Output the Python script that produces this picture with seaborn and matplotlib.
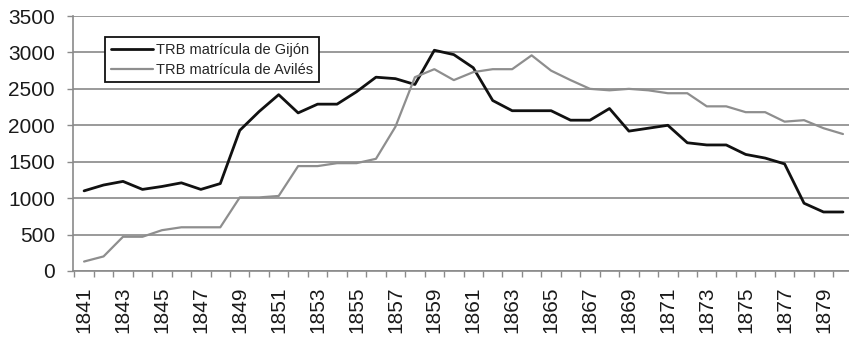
import numpy as np
import pandas as pd
import seaborn as sns
import matplotlib.pyplot as plt
from matplotlib.ticker import MultipleLocator, FixedLocator

years = list(range(1841, 1881))
gijon = [1100, 1180, 1230, 1120, 1160, 1210, 1120, 1200, 1930, 2190,
         2420, 2170, 2290, 2290, 2460, 2660, 2640, 2560, 3030, 2970,
         2790, 2340, 2200, 2200, 2200, 2070, 2070, 2230, 1920, 1960,
         2000, 1760, 1730, 1730, 1600, 1550, 1470, 930, 810, 810]
aviles = [130, 200, 470, 470, 560, 600, 600, 600, 1010, 1010,
          1030, 1440, 1440, 1480, 1480, 1540, 1980, 2660, 2770, 2620,
          2730, 2770, 2770, 2960, 2750, 2620, 2500, 2480, 2500, 2480,
          2440, 2440, 2260, 2260, 2180, 2180, 2050, 2070, 1960, 1880]
labels = ["TRB matrícula de Gijón", "TRB matrícula de Avilés"]
line_colors = ["#111111", "#8e8e8e"]

df = pd.DataFrame({
    "year": years * 2,
    "TRB": gijon + aviles,
    "serie": [labels[0]] * len(years) + [labels[1]] * len(years),
})

sns.set_style("white")
plt.rcParams["font.family"] = ["Liberation Sans", "DejaVu Sans"]

fig = plt.figure(figsize=(8.49, 3.38), dpi=100)
ax = fig.add_axes([73 / 849, 1 - 271 / 338, 776 / 849, 255 / 338])

sns.lineplot(data=df, x="year", y="TRB", hue="serie", palette=line_colors,
             ax=ax, legend=False)
ax.lines[0].set_linewidth(2.0)
ax.lines[1].set_linewidth(1.6)

ax.set_xlim(1840.43, 1880.31)
ax.set_ylim(0, 3500)
ax.set_xlabel("")
ax.set_ylabel("")

ax.yaxis.set_major_locator(MultipleLocator(500))
ax.grid(axis="y", color="#9a9a9a", linewidth=1.4)
ax.set_axisbelow(True)

ax.xaxis.set_major_locator(FixedLocator(years[::2]))
ax.xaxis.set_minor_locator(FixedLocator(np.arange(1840.5, 1880.6, 1.0)))
ax.tick_params(axis="x", which="major", length=0, pad=11, labelsize=15,
               rotation=90, labelcolor="#1a1a1a")
ax.tick_params(axis="x", which="minor", length=4, width=1, color="#8a8a8a",
               direction="out", bottom=True)
ax.tick_params(axis="y", length=4.5, width=1, color="#8a8a8a", pad=8.5,
               labelsize=15, labelcolor="#1a1a1a", left=True)

for side in ["top", "right"]:
    ax.spines[side].set_visible(False)
for side in ["left", "bottom"]:
    ax.spines[side].set_color("#8a8a8a")
    ax.spines[side].set_linewidth(1.2)

handles = [plt.Line2D([], [], color=line_colors[0], lw=2.0),
           plt.Line2D([], [], color=line_colors[1], lw=1.6)]
leg = ax.legend(handles, labels, loc="upper left",
                bbox_to_anchor=(105 / 849, 1 - 37 / 338),
                bbox_transform=fig.transFigure, fontsize=10.5,
                frameon=True, fancybox=False, borderpad=0.4,
                handlelength=2.9, handletextpad=0.2, labelspacing=0.4,
                borderaxespad=0)
leg.get_frame().set_edgecolor("#111111")
leg.get_frame().set_linewidth(1.3)
leg.get_frame().set_alpha(1)

fig.savefig("out.png", dpi=100)
